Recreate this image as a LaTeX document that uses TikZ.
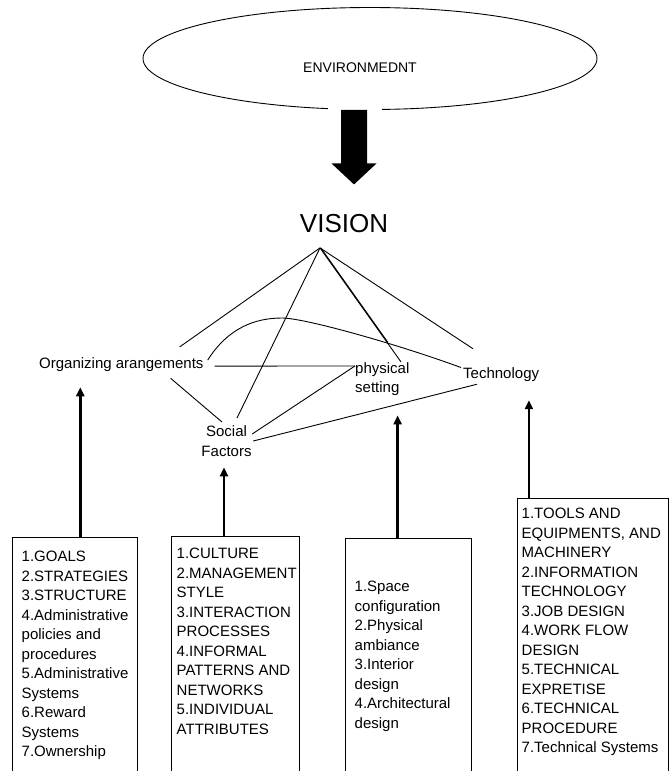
\documentclass[tikz,border=0pt]{standalone}
\usepackage{fontspec}
\setmainfont{Liberation Sans}
\usetikzlibrary{arrows.meta,calc,shapes.geometric}
\begin{document}
\begin{tikzpicture}[x=1pt,y=-1pt,
  lbl/.style={inner sep=0pt, font=\fontsize{15}{19.5}\selectfont},
  listtext/.style={lbl, align=left, anchor=north west},
  listbox/.style={draw, line width=1.3pt, minimum width=#1, minimum height=320pt,
                  anchor=north west, inner sep=0pt},
  link/.style={line width=0.9pt},
  uparrow/.style={line width=2.4pt, -{Triangle[width=8pt,length=9pt]}},
]
\useasboundingbox (0,0) rectangle (669,771);
\clip (0,0) rectangle (669,771);

% environment ellipse and its label
\node[ellipse, draw, line width=0.9pt, minimum width=454pt, minimum height=102pt,
      inner sep=0pt] (env) at (370,58.5) {};
\node[inner sep=0pt, font=\fontsize{14}{16}\selectfont] (envtext) at (360,68) {ENVIRONMEDNT};

% broad arrow from the environment down to the vision
\coordinate (foot) at ([xshift=-16pt]env.south);
\fill[white] ($(foot)+(-26,-6)$) rectangle ($(foot)+(28,4)$);
\fill ($(foot)+(-13,0)$) -- ($(foot)+(13,0)$) -- ($(foot)+(13,53.5)$)
      -- ($(foot)+(22.5,53.5)$) -- ($(foot)+(0,74.5)$) -- ($(foot)+(-22.5,53.5)$)
      -- ($(foot)+(-13,53.5)$) -- cycle;

% vision and the four factors
\node[inner sep=0pt, font=\fontsize{26}{30}\selectfont] (vision) at (344,224) {VISION};
\coordinate (apex) at ([xshift=-24pt,yshift=-14.5pt]vision.south);

\node[lbl, anchor=base west] (org) at (39,368) {Organizing arangements};
\node[lbl, align=center, anchor=north] (social) at (226.5,423) {\strut Social\\Factors\strut};
\node[lbl, align=left, anchor=north west] (phys) at (355,359.35) {\strut physical\\setting\strut};
\node[lbl, anchor=base west] (tech) at (463,378.6) {Technology};

\coordinate (physin) at ([yshift=-6.6pt]phys.north west);
\coordinate (physup) at ([xshift=46pt,yshift=-2.6pt]phys.north west);
\coordinate (crest) at (282,318);

% links from the vision
\draw[link] (apex) -- ([xshift=-24pt,yshift=10pt]org.north east);
\draw[link] (apex) -- ([xshift=10.5pt,yshift=5pt]social.north);
\draw[link] (apex) -- (physup);
\draw[link] ($(apex)+(0.8,0)$) -- ($(apex)!0.83!(physup)+(0.8,0)$);
\draw[link] (apex) -- ([xshift=10pt,yshift=18.8pt]tech.north west);

% links between the factors
\draw[link] ([xshift=11pt,yshift=-2pt]org.east) -- (physin);
\draw[link] ([xshift=-33pt,yshift=-7pt]org.south east) -- ([xshift=-4.5pt,yshift=1pt]social.north);
\draw[link] ([xshift=0.5pt,yshift=-11pt]social.north east) -- (physin);
\draw[link] ([xshift=1.5pt,yshift=-18pt]social.north east) -- ([xshift=14pt,yshift=-2.3pt]tech.south west);
\draw[link] ([xshift=4pt,yshift=4pt]org.east) .. controls (228,328) and (255,318) .. (crest)
            .. controls (305,318) and (400,345) .. ([xshift=-2pt]tech.north west);

% lists of elements
\node[listbox=125pt] (box1) at (12,537) {};
\node[listbox=128pt] (box2) at (171,536) {};
\node[listbox=126pt] (box3) at (345,538) {};
\node[listbox=151pt] (box4) at (517,498) {};

\node[listtext] (list1) at (21.5,547.65) {\strut 1.GOALS\\2.STRATEGIES\\3.STRUCTURE\\4.Administrative\\policies and\\procedures\\5.Administrative\\Systems\\6.Reward\\Systems\\7.Ownership};
\node[listtext] (list2) at (176.5,544.65) {\strut 1.CULTURE\\2.MANAGEMENT\\STYLE\\3.INTERACTION\\PROCESSES\\4.INFORMAL\\PATTERNS AND\\NETWORKS\\5.INDIVIDUAL\\ATTRIBUTES};
\node[listtext] (list3) at (354.5,577.65) {\strut 1.Space\\configuration\\2.Physical\\ambiance\\3.Interior\\design\\4.Architectural\\design};
\node[listtext] (list4) at (521.5,504.65) {\strut 1.TOOLS AND\\EQUIPMENTS, AND\\MACHINERY\\2.INFORMATION\\TECHNOLOGY\\3.JOB DESIGN\\4.WORK FLOW\\DESIGN\\5.TECHNICAL\\EXPRETISE\\6.TECHNICAL\\PROCEDURE\\7.Technical Systems};

% arrows from the lists up to the factors
\coordinate (orgtip) at ([xshift=-41pt,yshift=-16pt]org.south);
\coordinate (soctip) at ([xshift=-2.5pt,yshift=-5pt]social.south);
\coordinate (phytip) at ([xshift=15.3pt,yshift=-16.65pt]phys.south);
\coordinate (tectip) at ([xshift=27.8pt,yshift=-18.3pt]tech.south);
\draw[uparrow] (box1.north -| orgtip) -- (orgtip);
\draw[uparrow] (box2.north -| soctip) -- (soctip);
\draw[uparrow] (box3.north -| phytip) -- (phytip);
\draw[uparrow] (box4.north -| tectip) -- (tectip);
\end{tikzpicture}
\end{document}
